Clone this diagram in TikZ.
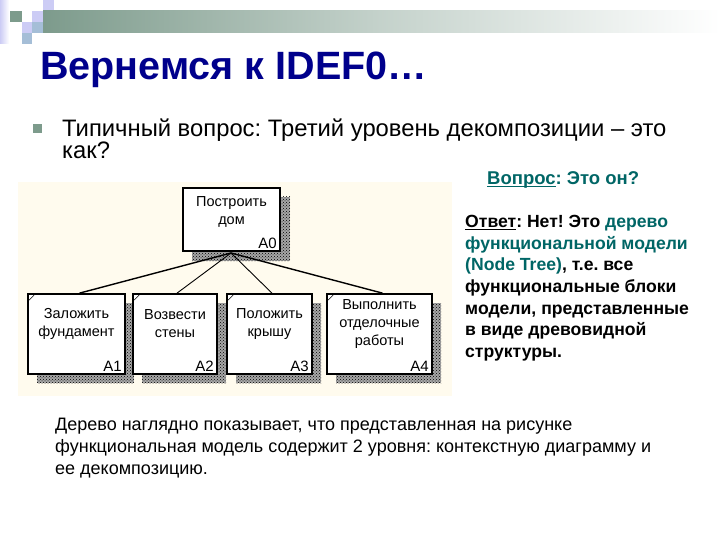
\documentclass[tikz,border=0pt]{standalone}
\usepackage{fontspec}
\setmainfont{Liberation Sans}
\usetikzlibrary{patterns,calc}
\definecolor{titleblue}{RGB}{0,0,140}
\definecolor{tealtxt}{RGB}{0,102,102}
\definecolor{sqgreen}{RGB}{125,155,140}
\definecolor{lav}{RGB}{204,204,245}
\definecolor{ltblue}{RGB}{165,190,215}
\definecolor{beige}{RGB}{255,251,238}
\newcommand{\myul}[1]{\underline{\smash{#1}}}
\tikzset{
  idefbox/.style={draw=black, line width=1.7pt, fill=white, inner sep=0pt},
  shadowbox/.style={pattern=crosshatch dots, pattern color=black},
  shadowbase/.style={fill=black!35},
  boxtext/.style={font=\fontsize{14.5}{18}\selectfont, align=center, inner sep=0pt},
  boxlabel/.style={font=\fontsize{15}{16}\selectfont, inner sep=0pt, anchor=south east},
  outerline/.style={line width=1.4pt},
  innerline/.style={line width=0.9pt},
  tick/.style={line width=0.6pt},
  plain/.style={inner sep=0pt, anchor=base west}
}
\begin{document}
\frenchspacing
\begin{tikzpicture}[x=1pt,y=-1pt]
\useasboundingbox (0,0) rectangle (720,540);
\fill[white] (0,0) rectangle (720,540);
% corner decoration
\shade[left color=lav, right color=white] (0,0) rectangle (9,44);
\fill[sqgreen] (10,11) rectangle (22,22);
\fill[lav] (32,11) rectangle (43,22);
\fill[lav] (43,0) rectangle (54,11);
\fill[lav] (22,22) rectangle (32,33);
\fill[ltblue] (32,22) rectangle (43,33);
\fill[ltblue] (22,33) rectangle (32,44);
\shade[left color=sqgreen, right color=white, middle color=sqgreen!45] (43,11) rectangle (720,33);
% title
\node[plain, text=titleblue, font=\bfseries\fontsize{39.5}{42}\selectfont] (title) at (40,80) {Вернемся к IDEF0…};
% bullet
\node[fill=sqgreen, minimum size=9pt, inner sep=0pt] (bullet) at (37.5,129) {};
\node[plain, font=\fontsize{23.8}{26}\selectfont] (q1) at (62,137) {Типичный вопрос: Третий уровень декомпозиции – это};
\node[plain, font=\fontsize{23.8}{26}\selectfont] (q2) at (62,159) {как?};
% question
\node[plain, text=tealtxt, font=\bfseries\fontsize{18.5}{20}\selectfont] (vq) at (487,185) {\myul{Вопрос}: Это он?};
% diagram background
\fill[beige] (18,182) rectangle (452,396);
% shadows
\foreach \r in {{(192,197) rectangle (290,261)},{(37,303) rectangle (134,383)},{(142,303) rectangle (226,383)},{(236,303) rectangle (321,383)},{(336,303) rectangle (441,383)}}{
  \fill[shadowbase] \r;
  \fill[shadowbox] \r;
}
% boxes
\node[idefbox, minimum width=97pt, minimum height=63pt] (a0) at (231.5,219.5) {};
\node[idefbox, minimum width=97pt, minimum height=80pt] (a1) at (76.5,334) {};
\node[idefbox, minimum width=84pt, minimum height=80pt] (a2) at (175,334) {};
\node[idefbox, minimum width=85pt, minimum height=80pt] (a3) at (269.5,334) {};
\node[idefbox, minimum width=105pt, minimum height=80pt] (a4) at (379.5,334) {};
% corner ticks
\foreach \b in {a1,a2,a3,a4}{
  \draw[tick] ($(\b.north west)+(2,7)$) -- ($(\b.north west)+(7,2)$);
}
% box texts
\node[boxtext] (t0) at ($(a0.center)+(0,-8)$) {Построить\\дом};
\node[boxtext] (t1) at ($(a1.center)+(0,-10)$) {Заложить\\фундамент};
\node[boxtext] (t2) at ($(a2.center)+(0,-10)$) {Возвести\\стены};
\node[boxtext] (t3) at ($(a3.center)+(0,-10)$) {Положить\\крышу};
\node[boxtext] (t4) at ($(a4.center)+(0,-10)$) {Выполнить\\отделочные\\работы};
\node[boxlabel] (l0) at ($(a0.south east)+(-4,-3)$) {A0};
\node[boxlabel] (l1) at ($(a1.south east)+(-4,-3)$) {A1};
\node[boxlabel] (l2) at ($(a2.south east)+(-4,-3)$) {A2};
\node[boxlabel] (l3) at ($(a3.south east)+(-4,-3)$) {A3};
\node[boxlabel] (l4) at ($(a4.south east)+(-4,-3)$) {A4};
% tree connectors
\coordinate (hub) at (231,253);
\draw[outerline] (hub) -- ($(a1.north)+(3,0)$);
\draw[innerline] (hub) -- ($(a2.north)+(2,0)$);
\draw[innerline] (hub) -- ($(a3.north)+(2.5,0)$);
\draw[outerline] (hub) -- ($(a4.north)+(3,0)$);
% answer text
\node[inner sep=0pt, anchor=north west, align=left, font=\bfseries\fontsize{17.6}{21.7}\selectfont] (ans) at (465,215) {%
\myul{Ответ}: Нет! Это {\color{tealtxt}дерево}\\
{\color{tealtxt}функциональной модели}\\
{\color{tealtxt}(Node Tree)}, т.е. все\\
функциональные блоки\\
модели, представленные\\
в виде древовидной\\
структуры.};
% bottom paragraph
\node[inner sep=0pt, anchor=north west, align=left, font=\fontsize{18}{22}\selectfont] (para) at (55,418) {%
Дерево наглядно показывает, что представленная на рисунке\\
функциональная модель содержит 2 уровня: контекстную диаграмму и\\
ее декомпозицию.};
\end{tikzpicture}
\end{document}
